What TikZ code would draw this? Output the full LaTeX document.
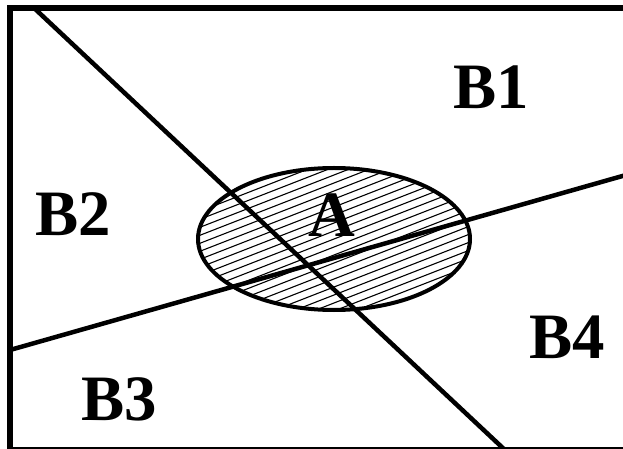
\documentclass[tikz,border=0pt]{standalone}
\usepackage{fontspec}
\setmainfont{Liberation Serif}
\begin{document}
\begin{tikzpicture}[x=1bp,y=-1bp,
  lbl/.style={font=\fontsize{65}{65}\selectfont\bfseries, inner sep=0pt},
  thick line/.style={line width=4.5bp},
  hatch/.style={line width=1.1bp}]
\useasboundingbox (0,0) rectangle (623,449);
\clip (0,0) rectangle (623,449);
% hatched ellipse
\begin{scope}
  \clip (334,239) ellipse [x radius=136, y radius=71];
  \foreach \k in {-40,...,40} {
    \draw[hatch] (150,{239+\k*8+0.39*184}) -- (520,{239+\k*8-0.39*186});
  }
\end{scope}
\draw[line width=4bp] (334,239) ellipse [x radius=136, y radius=71];
% frame
\draw[line width=6bp] (10,8) rectangle (626,450);
% dividing lines
\coordinate (l1a) at (33,7);
\coordinate (l1b) at (506,451);
\coordinate (l2a) at (10,350);
\coordinate (l2b) at (626,175);
\draw[thick line] (l1a) -- (l1b);
\draw[thick line] (l2a) -- (l2b);
% labels
\node[lbl] (b1) at (491,87) {B1};
\node[lbl] (b2) at (73,214) {B2};
\node[lbl] (b3) at (119,399) {B3};
\node[lbl] (b4) at (567,337) {B4};
\node[lbl] (a) at (332,215) {A};
\end{tikzpicture}
\end{document}
